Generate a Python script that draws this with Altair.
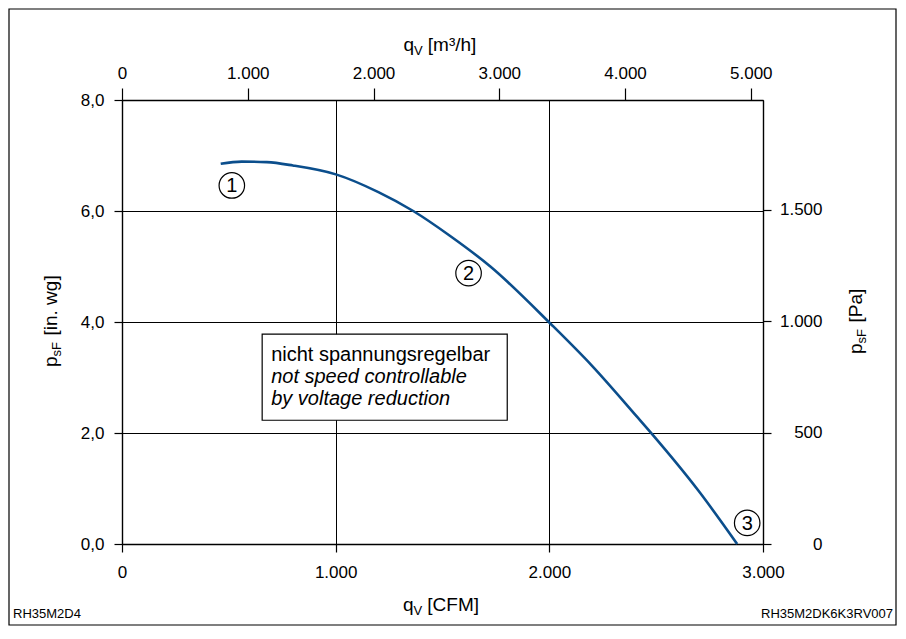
import altair as alt
import pandas as pd

# ---- data ----
cfm = [462, 560, 678, 800, 1001, 1200, 1363, 1536, 1724, 2008, 2200, 2411, 2481, 2700, 2879]
inwg = [6.85, 6.89, 6.88, 6.82, 6.66, 6.34, 6.00, 5.55, 5.00, 3.96, 3.21, 2.29, 1.98, 0.95, 0.0]

x_ticks_cfm = [0, 1000, 2000, 3000]
x_ticks_m3h = [0, 1000, 2000, 3000, 4000, 5000]
y_ticks_inwg = [0, 2, 4, 6, 8]
y_ticks_pa = [0, 500, 1000, 1500]

CFM_MAX = 3000
INWG_MAX = 8
M3H_PER_CFM = 1.69901
PA_PER_INWG = 249.089

marker_labels = ["1", "2", "3"]
marker_cfm = [514, 1622, 2926]
marker_inwg = [6.46, 4.88, 0.38]

note_lines = ["nicht spannungsregelbar", "not speed controllable", "by voltage reduction"]
note_styles = ["normal", "italic", "italic"]
note_cfm = [698, 698, 698]
note_inwg = [3.41, 3.01, 2.61]
box_cfm = [656, 1803]
box_inwg = [2.23, 3.78]

code_left = "RH35M2D4"
code_right = "RH35M2DK6K3RV007"

FONT = "Liberation Sans"
BLUE = "#0b4e8c"

curve_df = pd.DataFrame({"cfm": cfm, "inwg": inwg})
marker_df = pd.DataFrame({"label": marker_labels, "cfm": marker_cfm, "inwg": marker_inwg})
note_df = pd.DataFrame({"text": note_lines, "style": note_styles, "cfm": note_cfm, "inwg": note_inwg})
box_df = pd.DataFrame({"x1": [box_cfm[0]], "x2": [box_cfm[1]], "y1": [box_inwg[0]], "y2": [box_inwg[1]]})
sec_df = pd.DataFrame({"m3h": [0, CFM_MAX * M3H_PER_CFM], "pa": [0, INWG_MAX * PA_PER_INWG]})
one = pd.DataFrame({"a": [0]})


def xs():
    return alt.Scale(domain=[0, CFM_MAX], nice=False, zero=False)


def ys():
    return alt.Scale(domain=[0, INWG_MAX], nice=False, zero=False)


common_axis = dict(
    domainColor="black", domainWidth=1.4, tickColor="black", tickWidth=1.2,
    labelFont=FONT, labelFontSize=17, labelColor="black", labelFlush=False,
    labelOverlap=False,
)

x_axis = alt.Axis(
    orient="bottom", values=x_ticks_cfm, tickSize=8, labelPadding=12,
    grid=True, gridColor="black", gridWidth=1, gridOpacity=1,
    labelExpr="replace(format(datum.value, ',d'), ',', '.')", **common_axis,
)
y_axis = alt.Axis(
    orient="left", values=y_ticks_inwg, tickSize=8, labelPadding=10,
    grid=True, gridColor="black", gridWidth=1, gridOpacity=1,
    labelExpr="replace(format(datum.value, '.1f'), '.', ',')", **common_axis,
)
top_axis = alt.Axis(
    orient="top", values=x_ticks_m3h, tickSize=12, labelPadding=6, grid=False,
    labelExpr="replace(format(datum.value, ',d'), ',', '.')", **common_axis,
)
right_axis = alt.Axis(
    orient="right", values=y_ticks_pa, tickSize=8, labelPadding=51, grid=False,
    labelAlign="right",
    labelExpr="replace(format(datum.value, ',d'), ',', '.')", **common_axis,
)

curve = alt.Chart(curve_df).mark_line(color=BLUE, strokeWidth=2.6, interpolate="monotone").encode(
    x=alt.X("cfm:Q", scale=xs(), axis=x_axis, title=""),
    y=alt.Y("inwg:Q", scale=ys(), axis=y_axis, title=""),
)

box = alt.Chart(box_df).mark_rect(fill="white", stroke="black", strokeWidth=1.2).encode(
    x=alt.X("x1:Q", scale=xs(), axis=None), x2="x2:Q",
    y=alt.Y("y1:Q", scale=ys(), axis=None), y2="y2:Q",
)


def note_layer(style):
    return alt.Chart(note_df).transform_filter(alt.datum.style == style).mark_text(
        align="left", baseline="middle", font=FONT, fontSize=20, fontStyle=style, color="black"
    ).encode(
        x=alt.X("cfm:Q", scale=xs(), axis=None),
        y=alt.Y("inwg:Q", scale=ys(), axis=None),
        text="text:N",
    )


circles = alt.Chart(marker_df).mark_point(
    shape="circle", size=650, filled=False, stroke="black", strokeWidth=1.2, opacity=1
).encode(
    x=alt.X("cfm:Q", scale=xs(), axis=None),
    y=alt.Y("inwg:Q", scale=ys(), axis=None),
)
digits = alt.Chart(marker_df).mark_text(
    font=FONT, fontSize=20, color="black", baseline="middle", align="center", dy=1
).encode(
    x=alt.X("cfm:Q", scale=xs(), axis=None),
    y=alt.Y("inwg:Q", scale=ys(), axis=None),
    text="label:N",
)


def txt(text, x, y, size=19, angle=0, align="left", baseline="alphabetic"):
    kw = dict(font=FONT, fontSize=size, color="black", align=align, baseline=baseline, text=text)
    if angle:
        kw["angle"] = angle
    return alt.Chart(one).mark_text(**kw).encode(x=alt.value(x), y=alt.value(y))


titles = [
    # bottom: q_V [CFM]
    txt("q", 281, 511), txt("V", 291.6, 515, size=13), txt("[CFM]", 305.3, 511),
    # top: q_V [m³/h]
    txt("q", 281.5, -49), txt("V", 292.1, -45, size=13), txt("[m³/h]", 305.8, -49),
    # left: p_sF [in. wg]
    txt("p", -65, 267, angle=270), txt("sF", -61, 256.4, size=13, angle=270),
    txt("[in. wg]", -65, 235.5, angle=270),
    # right: p_sF [Pa]
    txt("p", 740, 254, angle=270), txt("sF", 744, 243.4, size=13, angle=270),
    txt("[Pa]", 740, 222.5, angle=270),
    # corner codes
    txt(code_left, -109, 518, size=13),
    txt(code_right, 771, 518, size=13, align="right"),
]

frame = alt.Chart(one).mark_rect(fill="white", fillOpacity=0, stroke="black", strokeWidth=1.2).encode(
    x=alt.value(-113), x2=alt.value(774), y=alt.value(-91), y2=alt.value(525)
)

secondary = alt.Chart(sec_df).mark_point(opacity=0).encode(
    x=alt.X("m3h:Q", scale=alt.Scale(domain=[0, CFM_MAX * M3H_PER_CFM], nice=False, zero=False),
            axis=top_axis, title=""),
    y=alt.Y("pa:Q", scale=alt.Scale(domain=[0, INWG_MAX * PA_PER_INWG], nice=False, zero=False),
            axis=right_axis, title=""),
)

chart = alt.layer(
    curve, secondary, frame, box, note_layer("normal"), note_layer("italic"), circles, digits, *titles
).resolve_scale(x="independent", y="independent").properties(
    width=641, height=444,
    autosize=alt.AutoSizeParams(type="none"),
    padding={"left": 114, "top": 92, "right": 134, "bottom": 82},
    background="white",
).configure_view(stroke=None)

chart.save("out.html", embed_options={"renderer": "svg", "actions": False})
